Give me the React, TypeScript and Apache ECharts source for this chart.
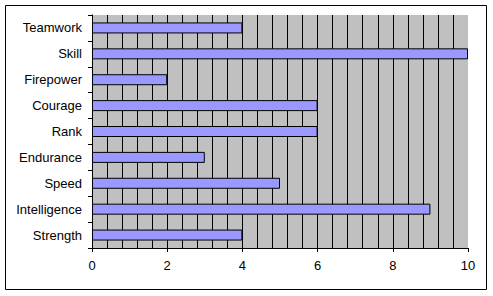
import React, { useEffect, useRef } from "react";
import * as echarts from "echarts";

const categories = [
  "Strength",
  "Intelligence",
  "Speed",
  "Endurance",
  "Rank",
  "Courage",
  "Firepower",
  "Skill",
  "Teamwork",
];
const scores = [4, 9, 5, 3, 6, 6, 2, 10, 4];
const axisMin = 0;
const axisMax = 10;
const labelStep = 2;
const gridStep = 0.4;

const FONT = "'Liberation Sans', Arial, sans-serif";

export default function App() {
  const ref = useRef<HTMLDivElement>(null);

  useEffect(() => {
    if (!ref.current) return;
    const chart = echarts.init(ref.current, undefined, { renderer: "svg" });
    chart.setOption({
      animation: false,
      backgroundColor: "#ffffff",
      grid: {
        left: 92,
        right: 25,
        top: 15,
        bottom: 48,
        show: true,
        backgroundColor: "#C0C0C0",
        borderWidth: 0,
      },
      graphic: [
        {
          type: "rect",
          shape: { x: 5.5, y: 5.5, width: 481, height: 284 },
          style: { fill: "none", stroke: "#000000", lineWidth: 1 },
          z: 100,
        },
      ],
      xAxis: [
        {
          type: "value",
          min: axisMin,
          max: axisMax,
          interval: labelStep,
          axisLine: { show: true, lineStyle: { color: "#000000", width: 1 } },
          axisTick: { show: true, length: 4, lineStyle: { color: "#000000" } },
          axisLabel: {
            color: "#000000",
            fontFamily: FONT,
            fontSize: 13,
            margin: 11,
          },
          splitLine: { show: false },
          z: 5,
        },
        {
          type: "value",
          min: axisMin,
          max: axisMax,
          interval: gridStep,
          position: "bottom",
          axisLine: { show: false },
          axisTick: { show: false },
          axisLabel: { show: false },
          splitLine: {
            show: true,
            showMinLine: false,
            showMaxLine: false,
            lineStyle: { color: "#000000", width: 1 },
          },
        },
      ],
      yAxis: [
        {
          type: "category",
          data: categories,
          axisLine: { show: true, lineStyle: { color: "#000000", width: 1 } },
          axisTick: { show: true, length: 4, lineStyle: { color: "#000000" } },
          axisLabel: {
            color: "#000000",
            fontFamily: FONT,
            fontSize: 13,
            margin: 10,
          },
          splitLine: { show: false },
          z: 5,
        },
        {
          type: "category",
          data: categories,
          position: "right",
          axisLine: { show: true, lineStyle: { color: "#808080", width: 1 } },
          axisTick: { show: false },
          axisLabel: { show: false },
          splitLine: { show: false },
        },
      ],
      series: [
        {
          type: "bar",
          data: scores,
          xAxisIndex: 0,
          yAxisIndex: 0,
          barWidth: 11,
          itemStyle: {
            color: "#9999FF",
            borderColor: "#000000",
            borderWidth: 1,
          },
          z: 3,
        },
      ],
    });
    return () => chart.dispose();
  }, []);

  return (
    <div
      ref={ref}
      style={{
        position: "fixed",
        left: 0,
        top: 0,
        width: 493,
        height: 296,
        background: "#ffffff",
      }}
    />
  );
}
